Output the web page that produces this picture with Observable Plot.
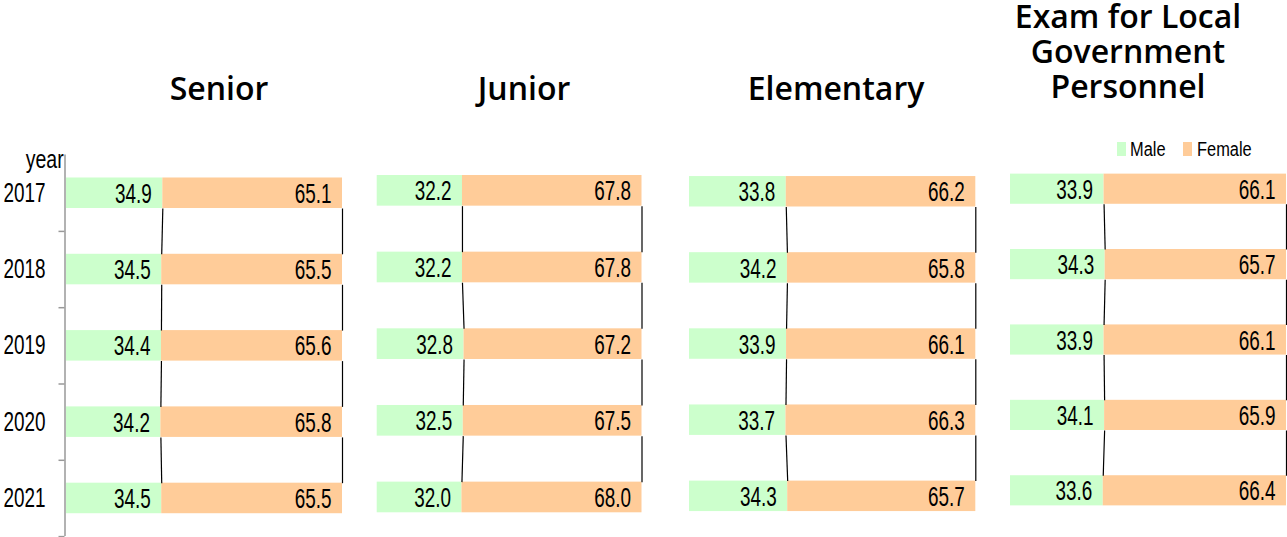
<!DOCTYPE html>
<html><head><meta charset="utf-8">
<script src="https://cdn.jsdelivr.net/npm/d3@7"></script>
<script src="https://cdn.jsdelivr.net/npm/@observablehq/plot@0.6"></script>
<style>
body{margin:0;background:#fff;}
#wrap{position:relative;width:1287px;height:537px;overflow:hidden;background:#fff;}
.panel{position:absolute;top:0;}
.title{position:absolute;text-align:center;font-family:"Open Sans",sans-serif;font-weight:600;font-size:32px;line-height:35px;color:#000;white-space:nowrap;}
.narrow{font-family:"Liberation Sans",Arial,sans-serif;}
.legend{position:absolute;top:138px;font-size:20px;line-height:22px;color:#000;transform:scaleX(0.82);transform-origin:left center;white-space:nowrap;}
.sw{position:absolute;width:9px;height:14px;}
</style></head><body><div id="wrap"></div>
<script>
// ---- data ----
const years = [2017, 2018, 2019, 2020, 2021];
const panelTitles = ["Senior", "Junior", "Elementary", "Exam for Local\nGovernment\nPersonnel"];
const seriesNames = ["Male", "Female"];
const seriesColors = ["#ccffcc", "#ffcc99"];
const seniorMale = [34.9, 34.5, 34.4, 34.2, 34.5];
const seniorFemale = [65.1, 65.5, 65.6, 65.8, 65.5];
const juniorMale = [32.2, 32.2, 32.8, 32.5, 32.0];
const juniorFemale = [67.8, 67.8, 67.2, 67.5, 68.0];
const elementaryMale = [33.8, 34.2, 33.9, 33.7, 34.3];
const elementaryFemale = [66.2, 65.8, 66.1, 66.3, 65.7];
const examMale = [33.9, 34.3, 33.9, 34.1, 33.6];
const examFemale = [66.1, 65.7, 66.1, 65.9, 66.4];
const yAxisLabel = "year";

const panelData = [
  [seniorMale, seniorFemale],
  [juniorMale, juniorFemale],
  [elementaryMale, elementaryFemale],
  [examMale, examFemale]
];

// ---- layout ----
const layouts = [
  {left: 0, width: 360, mL: 66, mR: 18, mT: 154.6, mB: 0.9, title: {cx: 219, top: 70}},
  {left: 360, width: 320, mL: 16.7, mR: 38.5, mT: 152, mB: 1.7, title: {cx: 524, top: 70}},
  {left: 680, width: 320, mL: 9, mR: 24.7, mT: 153.2, mB: 3.1, title: {cx: 836, top: 70}},
  {left: 1000, width: 287, mL: 10, mR: 1, mT: 151, mB: 9, title: {cx: 1128, top: -2}}
];

const FONT = '"Liberation Sans",Arial,sans-serif';
const SQUEEZE = 0.7;
const half = 0.2;
const wrap = document.getElementById("wrap");

function squeeze(svg, k) {
  svg.querySelectorAll('g[aria-label="text"] text, g[aria-label="y-axis tick label"] text').forEach(t => {
    const len = t.getComputedTextLength();
    if (len > 0) {
      t.setAttribute("textLength", (len * k).toFixed(2));
      t.setAttribute("lengthAdjust", "spacingAndGlyphs");
    }
  });
}

panelData.forEach(([male, female], p) => {
  const L = layouts[p];
  const rows = [];
  years.forEach((y, i) => {
    rows.push({year: y, sex: seriesNames[0], x1: 0, x2: male[i], value: male[i]});
    rows.push({year: y, sex: seriesNames[1], x1: male[i], x2: male[i] + female[i], value: female[i]});
  });
  const links = [];
  for (let i = 0; i < years.length - 1; i++) {
    links.push({x1: male[i], x2: male[i + 1], y1: years[i] + half, y2: years[i + 1] - half});
    links.push({x1: male[i] + female[i], x2: male[i + 1] + female[i + 1], y1: years[i] + half, y2: years[i + 1] - half});
  }
  const marks = [
    Plot.rect(rows, {x1: "x1", x2: "x2", y1: d => d.year - half, y2: d => d.year + half, fill: "sex"}),
    Plot.link(links, {x1: "x1", x2: "x2", y1: "y1", y2: "y2", stroke: "#000", strokeWidth: 1.2}),
    Plot.text(rows, {x: "x2", y: "year", text: d => d.value.toFixed(1), textAnchor: "end", dx: -11, dy: 1, fontSize: 27, fontFamily: FONT, fill: "#000"})
  ];
  if (p === 0) {
    marks.push(
      Plot.ruleX([0], {stroke: "#999", strokeWidth: 1.5, dx: -1.5}),
      Plot.axisY({ticks: years.map(y => y + 0.5), tickFormat: () => "", tickSize: 6, stroke: "#999", strokeWidth: 1.5, dx: -1.5}),
      Plot.axisY({ticks: years, tickFormat: d => String(d), tickSize: 0, tickPadding: 21, fontSize: 27, fontFamily: FONT, fill: "#000", label: null})
    );
  }
  const chart = Plot.plot({
    width: L.width,
    height: 537,
    marginLeft: L.mL,
    marginRight: L.mR,
    marginTop: L.mT,
    marginBottom: L.mB,
    style: {background: "transparent", overflow: "visible"},
    x: {domain: [0, 100], axis: null},
    y: {domain: [years[years.length - 1] + 0.5, years[0] - 0.5], axis: null, label: null},
    color: {domain: seriesNames, range: seriesColors},
    marks
  });
  chart.classList.add("panel");
  chart.style.left = L.left + "px";
  wrap.appendChild(chart);
  squeeze(chart, SQUEEZE);

  const t = document.createElement("div");
  t.className = "title";
  t.style.left = (L.title.cx - 200) + "px";
  t.style.width = "400px";
  t.style.top = L.title.top + "px";
  t.innerHTML = panelTitles[p].split("\n").join("<br>");
  wrap.appendChild(t);
});

// "year" axis label
const yl = document.createElement("div");
yl.className = "narrow";
yl.style.cssText = "position:absolute;right:" + (1287 - 64) + "px;top:147px;font-size:25px;line-height:25px;transform:scaleX(0.78);transform-origin:right center;";
yl.textContent = yAxisLabel;
wrap.appendChild(yl);

// legend
const legendPos = [{sw: 1117, tx: 1130}, {sw: 1183, tx: 1197}];
seriesNames.forEach((name, i) => {
  const s = document.createElement("div");
  s.className = "sw";
  s.style.left = legendPos[i].sw + "px";
  s.style.top = "142px";
  s.style.background = seriesColors[i];
  wrap.appendChild(s);
  const tx = document.createElement("div");
  tx.className = "legend narrow";
  tx.style.left = legendPos[i].tx + "px";
  tx.textContent = name;
  wrap.appendChild(tx);
});
</script></body></html>
